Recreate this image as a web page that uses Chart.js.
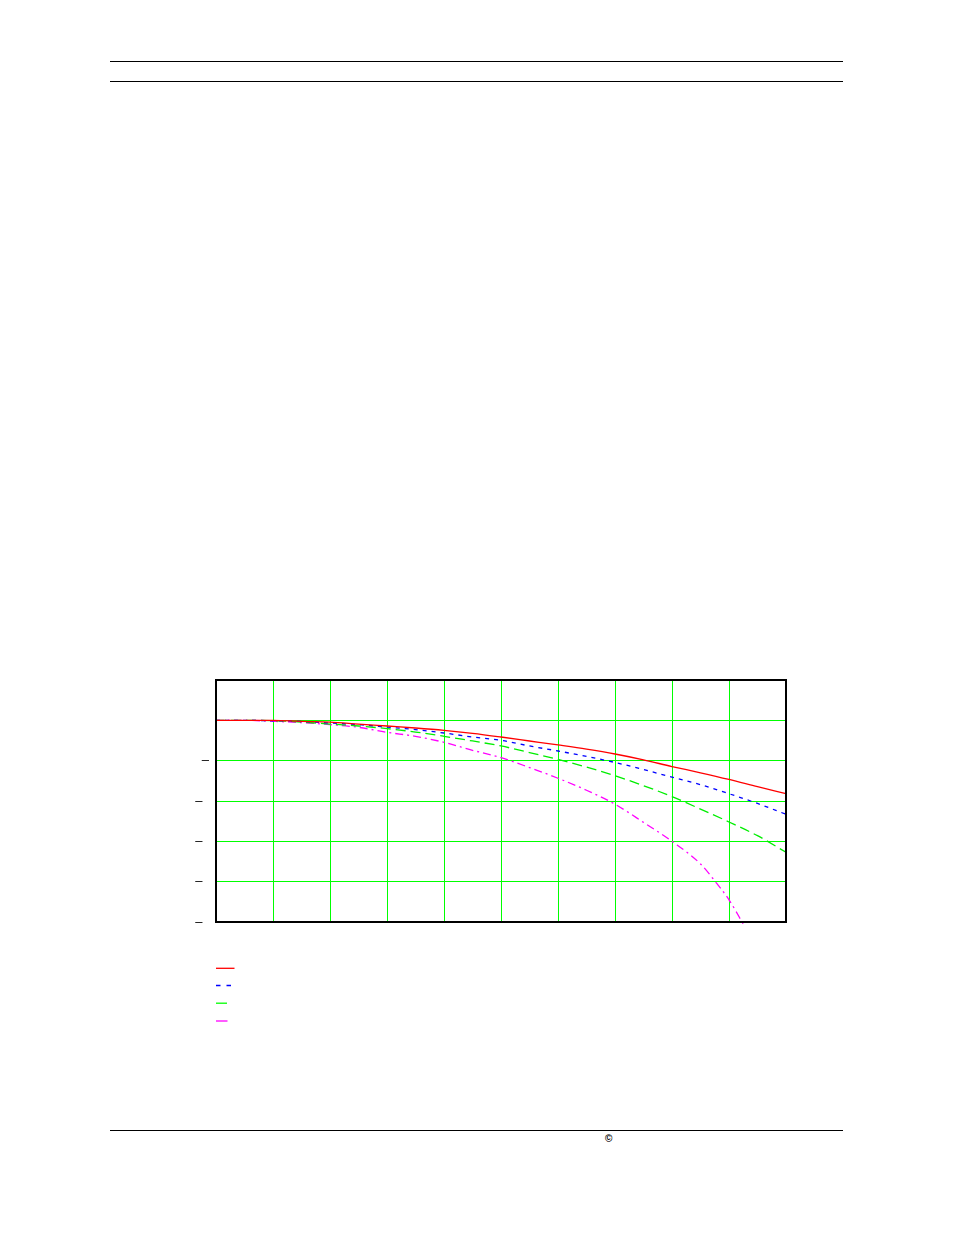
<!DOCTYPE html>
<html>
<head>
<meta charset="utf-8">
<script src="https://cdn.jsdelivr.net/npm/chart.js@4/dist/chart.umd.min.js"></script>
<style>
  html, body { margin: 0; padding: 0; background: #fff; }
  #page { position: relative; width: 954px; height: 1235px; overflow: hidden; }
  .rule { position: absolute; left: 110px; width: 733px; height: 0; border-top: 1.3px solid #000; }
  #copy { position: absolute; left: 605px; top: 1133px; font: bold 10px "Liberation Sans", Arial, sans-serif; color: #000; }
  #wrap { position: absolute; left: 0; top: 0; width: 954px; height: 1235px; }
</style>
</head>
<body>
<div id="page">
  <div class="rule" style="top:60.5px"></div>
  <div class="rule" style="top:80.5px"></div>
  <div class="rule" style="top:1129.5px"></div>
  <div id="copy">©</div>
  <div id="wrap"><canvas id="c"></canvas></div>
</div>
<script>
// ---- data ----
const xValues = [0, 0.5, 1, 1.5, 2, 2.5, 3, 3.5, 4, 4.5, 5, 5.5, 6, 6.5, 7, 7.5, 8, 8.5, 9, 9.5, 10];
const redValues = [0, 0, 0, -0.025, -0.042, -0.092, -0.141, -0.19, -0.248, -0.322, -0.413, -0.512, -0.611, -0.715, -0.835, -0.98, -1.146, -1.3, -1.465, -1.645, -1.82];
const blueValues = [0, 0, -0.01, -0.025, -0.067, -0.106, -0.166, -0.23, -0.314, -0.413, -0.495, -0.636, -0.76, -0.895, -1.045, -1.22, -1.41, -1.595, -1.82, -2.06, -2.33];
const greenValues = [0, 0, -0.01, -0.042, -0.092, -0.141, -0.205, -0.29, -0.396, -0.512, -0.636, -0.80, -0.97, -1.16, -1.375, -1.62, -1.89, -2.2, -2.52, -2.86, -3.27];
const magentaX = [0, 0.5, 1, 1.5, 2, 2.5, 3, 3.5, 4, 4.5, 5, 5.5, 6, 6.5, 7, 7.5, 8, 8.5, 8.75, 9, 9.25];
const magentaValues = [0, 0, -0.025, -0.057, -0.106, -0.173, -0.297, -0.396, -0.545, -0.743, -0.923, -1.171, -1.436, -1.733, -2.08, -2.53, -3.0, -3.56, -3.98, -4.45, -5.05];
const yTickLabels = { "-1": "–", "-2": "–\u2002", "-3": "–\u2002", "-4": "–\u2002", "-5": "–\u2002" };

const pts = (xs, ys) => xs.map((x, i) => ({ x: x, y: ys[i] }));

const legendColors = ['#ff0000', '#0000ff', '#00ff00', '#ff00ff'];

const framePlugin = {
  id: 'frame',
  afterDraw(chart) {
    const { ctx, chartArea: a } = chart;
    ctx.save();
    ctx.strokeStyle = '#000';
    ctx.lineWidth = 2;
    ctx.strokeRect(Math.round(a.left), Math.round(a.top), Math.round(a.right - a.left), Math.round(a.bottom - a.top));
    // legend samples (no text in the reference)
    const samples = [
      { y: 968.3, len: 18.5, dash: [] },
      { y: 985.5, len: 15, dash: [4.5, 6] },
      { y: 1003.2, len: 11, dash: [] },
      { y: 1021, len: 11.5, dash: [] }
    ];
    ctx.lineWidth = 1.3;
    samples.forEach((s, i) => {
      ctx.strokeStyle = legendColors[i];
      ctx.setLineDash(s.dash);
      ctx.beginPath();
      ctx.moveTo(216, s.y);
      ctx.lineTo(216 + s.len, s.y);
      ctx.stroke();
    });
    ctx.restore();
  }
};

new Chart(document.getElementById('c'), {
  type: 'line',
  data: {
    datasets: [
      { data: pts(xValues, redValues), borderColor: '#ff0000', borderWidth: 1.3, pointRadius: 0, cubicInterpolationMode: 'monotone' },
      { data: pts(xValues, blueValues), borderColor: '#0000ff', borderWidth: 1.3, borderDash: [4, 5], pointRadius: 0, cubicInterpolationMode: 'monotone' },
      { data: pts(xValues, greenValues), borderColor: '#00ee00', borderWidth: 1.3, borderDash: [10, 5], pointRadius: 0, cubicInterpolationMode: 'monotone' },
      { data: pts(magentaX, magentaValues), borderColor: '#ff00ff', borderWidth: 1.3, borderDash: [8, 4, 2, 4], pointRadius: 0, cubicInterpolationMode: 'monotone', clip: { left: 0, top: 0, right: 0, bottom: 4 } }
    ]
  },
  options: {
    responsive: true,
    maintainAspectRatio: false,
    animation: false,
    events: [],
    layout: { padding: { left: 186, right: 168, top: 680, bottom: 313 } },
    plugins: { legend: { display: false }, tooltip: { enabled: false } },
    scales: {
      x: {
        type: 'linear', min: 0, max: 10,
        ticks: { display: false, stepSize: 1 },
        grid: { color: '#00ff00', lineWidth: 1, drawTicks: false },
        border: { display: false },
        afterFit(s) { s.height = 0; }
      },
      y: {
        type: 'linear', min: -5, max: 1,
        ticks: {
          stepSize: 1, padding: 7, color: '#000',
          font: { family: '"Liberation Sans", Arial, sans-serif', size: 13 },
          callback: (v) => yTickLabels[String(v)] || ''
        },
        grid: { color: '#00ff00', lineWidth: 1, drawTicks: false },
        border: { display: false },
        afterFit(s) { s.width = 30; }
      }
    }
  },
  plugins: [framePlugin]
});
</script>
</body>
</html>
